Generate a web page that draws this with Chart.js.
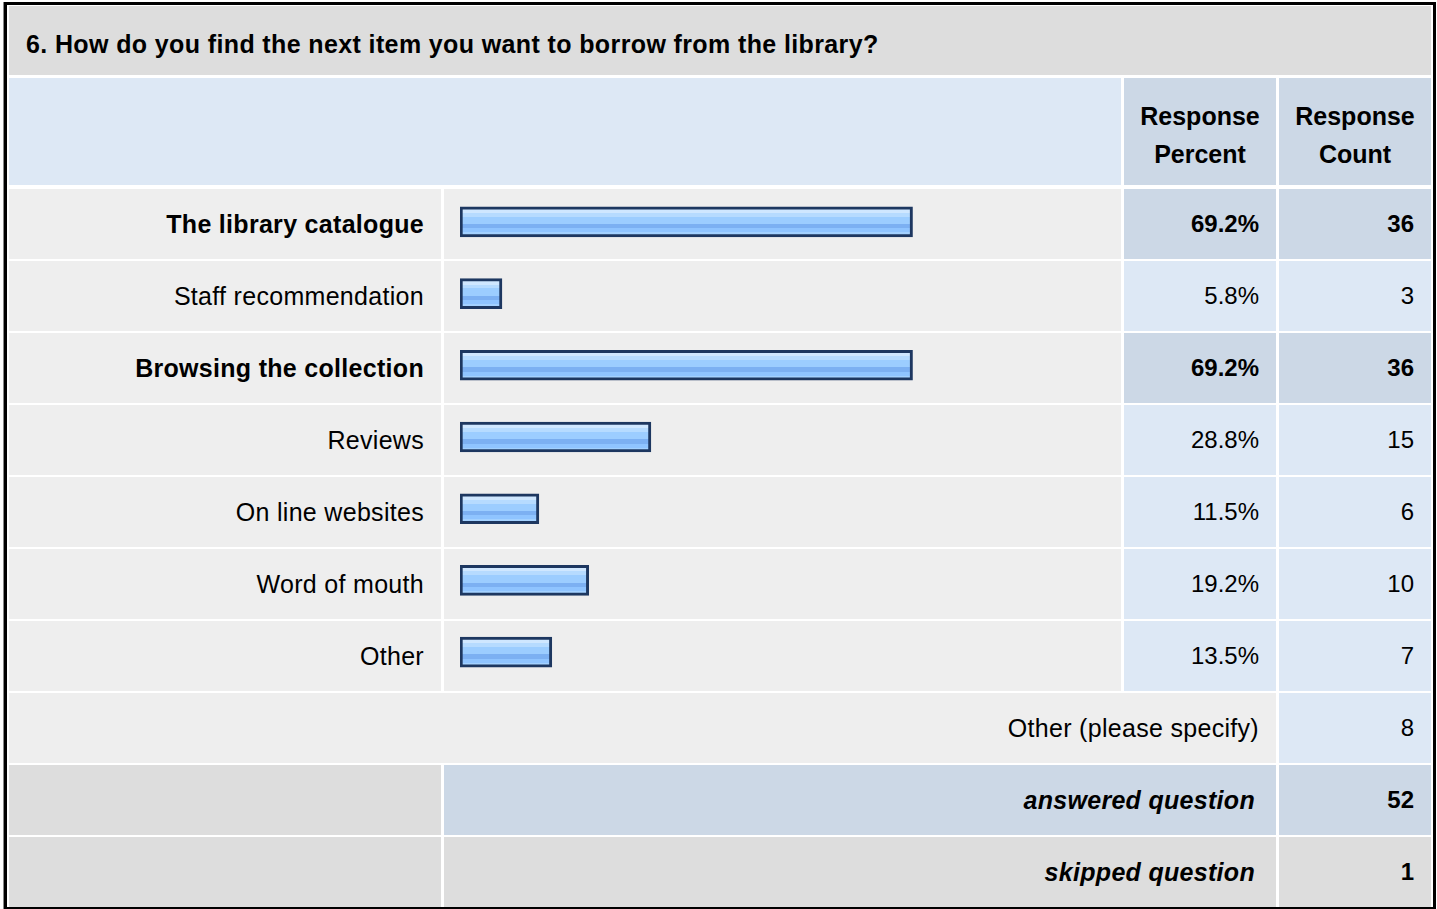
<!DOCTYPE html>
<html><head><meta charset="utf-8">
<script src="https://cdn.jsdelivr.net/npm/chart.js@4.4.1/dist/chart.umd.min.js"></script>
<style>
html,body{margin:0;padding:0;background:#fff;}
body{width:1437px;height:909px;position:relative;overflow:hidden;font-family:"Liberation Sans",Arial,Helvetica,sans-serif;color:#000;}
.frame{position:absolute;left:4px;top:2px;width:1426px;height:902px;border:3px solid #000;box-shadow:-1px 0 0 #888;}
.c{position:absolute;display:flex;align-items:center;box-sizing:border-box;font-size:25px;white-space:nowrap;letter-spacing:0.3px;}
.r{justify-content:flex-end;padding-right:17px;}
.n{font-size:24px;letter-spacing:0;}
.b{font-weight:bold;}
.bi{font-weight:bold;font-style:italic;}
#wrap{position:absolute;left:444px;top:186px;width:677px;height:502px;}
</style>
</head><body>
<div class="frame"></div>
<div id="cells"></div>
<div id="wrap"><canvas id="ch" width="677" height="502"></canvas></div>
<script>
// ---- data ----
const title = "6. How do you find the next item you want to borrow from the library?";
const headers = ["Response Percent", "Response Count"];
const categories = ["The library catalogue","Staff recommendation","Browsing the collection","Reviews","On line websites","Word of mouth","Other"];
const percents = [69.2, 5.8, 69.2, 28.8, 11.5, 19.2, 13.5];
const counts = [36, 3, 36, 15, 6, 10, 7];
const otherLabel = "Other (please specify)";
const otherCount = 8;
const answeredLabel = "answered question";
const answered = 52;
const skippedLabel = "skipped question";
const skipped = 1;

// ---- table cells (layout) ----
const cells = document.getElementById('cells');
function cell(x,y,w,h,bg,html,cls,extra){
  const d=document.createElement('div');
  d.className='c '+(cls||'');
  d.style.cssText=`left:${x}px;top:${y}px;width:${w}px;height:${h}px;background:${bg};`+(extra||'');
  d.innerHTML=html||'';
  cells.appendChild(d);
  return d;
}
const COL = {lx:9,lw:432,bx:444,bw:677,px:1124,pw:152,cx:1279,cw:152};
const LIGHT='#dde8f5', DARK='#ccd8e6', GREY='#eeeeee', MID='#dddddd';
cell(9,6,1422,69,MID,title,'b','padding-left:17px;padding-top:7px;letter-spacing:0.38px;');
cell(9,78,1112,107,LIGHT,'');
headers.forEach((t,i)=>{
  const parts=t.split(' ');
  cell(i?COL.cx:COL.px,78,152,107,DARK,parts.join('<br>'),'b','justify-content:center;text-align:center;line-height:38px;padding-top:7px;letter-spacing:0;');
});
const maxC = Math.max(...counts);
categories.forEach((cat,i)=>{
  const y=189+72*i, h=70;
  const bold = counts[i]===maxC;
  cell(COL.lx,y,COL.lw,h,GREY,cat,'r'+(bold?' b':''));
  cell(COL.bx,y,COL.bw,h,GREY,'');
  cell(COL.px,y,COL.pw,h,bold?DARK:LIGHT,percents[i].toFixed(1)+'%','r n'+(bold?' b':''));
  cell(COL.cx,y,COL.cw,h,bold?DARK:LIGHT,String(counts[i]),'r n'+(bold?' b':''));
});
let y=189+72*7;
cell(COL.lx,y,COL.px+COL.pw-COL.lx,70,GREY,otherLabel,'r');
cell(COL.cx,y,COL.cw,70,LIGHT,String(otherCount),'r n');
y+=72;
cell(COL.lx,y,COL.lw,70,MID,'');
cell(COL.bx,y,COL.px+COL.pw-COL.bx,70,DARK,answeredLabel,'r bi','padding-right:21px;');
cell(COL.cx,y,COL.cw,70,DARK,String(answered),'r n b');
y+=72;
cell(COL.lx,y,COL.lw,70,MID,'');
cell(COL.bx,y,COL.px+COL.pw-COL.bx,70,MID,skippedLabel,'r bi','padding-right:21px;');
cell(COL.cx,y,COL.cw,70,MID,String(skipped),'r n b');

// ---- bars ----
const BASE=-0.68;
const BAR_T=30;
const STOPS=[[0,'#cfe7ff'],[0.2,'#cfe7ff'],[0.2,'#b6dbff'],[0.33,'#b6dbff'],[0.33,'#9ccdff'],[0.57,'#9ccdff'],[0.57,'#7cb0f2'],[0.72,'#7cb0f2'],[0.72,'#8fc4ff'],[0.85,'#8fc4ff'],[0.85,'#a3d1ff'],[1,'#a3d1ff']];
function barFill(ctx){
  const ch=ctx.chart, ys=ch.scales && ch.scales.y;
  if(!ys || typeof ctx.dataIndex!=='number') return '#9ccdff';
  const cy=ys.getPixelForValue(ctx.dataIndex);
  if(!isFinite(cy)) return '#9ccdff';
  const g=ch.ctx.createLinearGradient(0,cy-BAR_T/2,0,cy+BAR_T/2);
  STOPS.forEach(s=>g.addColorStop(s[0],s[1]));
  return g;
}
new Chart(document.getElementById('ch'),{
  type:'bar',
  data:{labels:categories,datasets:[{data:percents,base:BASE,barThickness:BAR_T,borderWidth:3,borderColor:'#1d3760',borderSkipped:false,backgroundColor:barFill}]},
  options:{
    indexAxis:'y',responsive:false,animation:false,devicePixelRatio:1,
    layout:{padding:{left:16,right:9,top:0,bottom:0}},
    scales:{x:{type:'linear',min:BASE,max:100,display:false},y:{type:'category',display:false}},
    plugins:{legend:{display:false},tooltip:{enabled:false}},
    events:[]
  }
});
</script>
</body></html>
